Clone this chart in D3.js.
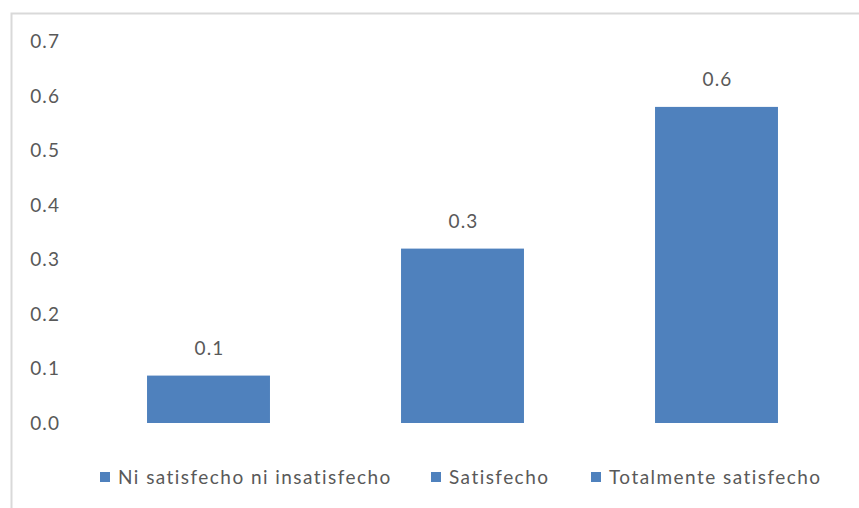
<!DOCTYPE html>
<html>
<head>
<meta charset="utf-8">
<script src="https://cdn.jsdelivr.net/npm/d3@7"></script>
<style>
  html, body { margin: 0; padding: 0; background: #fff; }
  svg { display: block; }
  text { font-family: "Lato", "Open Sans", sans-serif; fill: #595959; letter-spacing: 1.1px; }
  .legend text { letter-spacing: 1.45px; }
</style>
</head>
<body>
<svg id="chart" width="859" height="508"></svg>
<script>
// Satisfaction levels and their shares
const categories = ["Ni satisfecho ni insatisfecho", "Satisfecho", "Totalmente satisfecho"];
const values = [0.087, 0.32, 0.58];
const yTicks = [0, 0.1, 0.2, 0.3, 0.4, 0.5, 0.6, 0.7];

const svg = d3.select("#chart");
const barColor = "#4f81bd";
const fmt = d3.format(".1f");

// Outer chart frame (top and left edges visible)
svg.append("path")
  .attr("d", "M11.5,520 L11.5,13.5 L870,13.5")
  .attr("fill", "none")
  .attr("stroke", "#d9d9d9")
  .attr("stroke-width", 2);

const plot = { left: 81.5, right: 843.5, top: 41.5, bottom: 423 };

const x = d3.scaleBand()
  .domain(categories)
  .range([plot.left, plot.right])
  .paddingInner(0.516)
  .paddingOuter(0.258);

const y = d3.scaleLinear()
  .domain([0, 0.7])
  .range([plot.bottom, plot.top]);

// Y axis labels only (no axis line, no gridlines)
const yAxis = d3.axisLeft(y)
  .tickValues(yTicks)
  .tickFormat(fmt)
  .tickSize(0)
  .tickPadding(0);

const gy = svg.append("g")
  .attr("transform", "translate(60,0)")
  .call(yAxis);
gy.select(".domain").remove();
gy.selectAll("text")
  .style("font-family", "Lato, 'Open Sans', sans-serif")
  .style("font-size", "19px")
  .attr("fill", "#595959");

// Bars
svg.append("g").selectAll("rect")
  .data(categories)
  .join("rect")
  .attr("x", d => x(d))
  .attr("width", x.bandwidth())
  .attr("y", (d, i) => y(values[i]))
  .attr("height", (d, i) => y(0) - y(values[i]))
  .attr("fill", barColor);

// Value labels above bars
svg.append("g").selectAll("text")
  .data(categories)
  .join("text")
  .attr("x", d => x(d) + x.bandwidth() / 2 + 1)
  .attr("y", (d, i) => y(values[i]) - 21)
  .attr("text-anchor", "middle")
  .style("font-size", "19px")
  .text((d, i) => fmt(values[i]));

// Legend
const legendX = [100, 431, 591];
const legend = svg.append("g").attr("class", "legend").selectAll("g")
  .data(categories)
  .join("g")
  .attr("transform", (d, i) => `translate(${legendX[i]},477)`);
legend.append("rect")
  .attr("x", 0).attr("y", -5)
  .attr("width", 10).attr("height", 10)
  .attr("fill", barColor);
legend.append("text")
  .attr("x", 18)
  .attr("y", 0)
  .attr("dy", "0.35em")
  .style("font-size", "19px")
  .text(d => d);
</script>
</body>
</html>
